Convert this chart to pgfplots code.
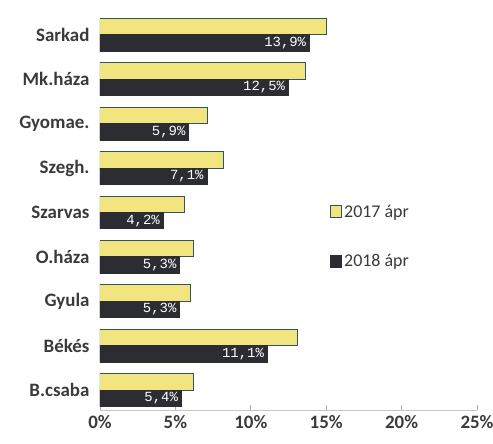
\documentclass[border=0pt]{standalone}
\usepackage{pgfplots}
\pgfplotsset{compat=1.18}
\usepackage{fontspec}
\setmainfont{Carlito}
\newfontfamily\valfont{Liberation Mono}
\definecolor{ylw}{HTML}{F2E47E}
\definecolor{ylwedge}{HTML}{2E5560}
\definecolor{dk}{HTML}{2B2D33}
\definecolor{txt}{HTML}{3A3A3A}
\begin{document}
\begin{tikzpicture}
\useasboundingbox (-100bp,-34bp) rectangle (393bp,410bp);
\begin{axis}[
  at={(0,0)}, anchor=south west,
  scale only axis, width=377bp, height=395bp,
  xbar, y dir=reverse,
  xmin=0, xmax=25,
  ymin=-0.45, ymax=8.45,
  bar width=0.37,
  ytick={0,...,8},
  yticklabels={Sarkad,Mk.háza,Gyomae.,Szegh.,Szarvas,O.háza,Gyula,Békés,B.csaba},
  xtick={0,5,...,25},
  xticklabel={\pgfmathprintnumber{\tick}\%},
  /pgf/number format/assume math mode=true,
  axis x line*=bottom,
  axis y line*=left,
  y axis line style={draw=none},
  x axis line style={gray!45, line width=0.8bp},
  xtick style={gray!60, line width=0.8bp},
  major tick length=5bp,
  ytick style={draw=none},
  ticklabel style={font=\fontsize{19}{19}\selectfont\bfseries, text=txt},
  yticklabel style={xshift=-2bp},
  xticklabel style={yshift=-2bp},
  legend style={at={(0.61,0.525)}, anchor=north west, draw=none, fill=none,
    font=\fontsize{18}{18}\selectfont, text=txt, row sep=32bp, inner sep=0pt,
    legend cell align=left},
  legend image code/.code={\draw[#1] (0bp,-6bp) rectangle (11bp,6bp);},
]
\addplot+[bar shift=-0.185, fill=ylw, draw=ylwedge, line width=1bp] coordinates {
  (15.0,0) (13.6,1) (7.1,2) (8.2,3) (5.6,4) (6.2,5) (6.0,6) (13.1,7) (6.2,8)};
\addlegendentry{2017 ápr}
\addplot+[bar shift=0.185, fill=dk, draw=dk, line width=1bp,
  nodes near coords={\pgfmathprintnumber[fixed,fixed zerofill,precision=1,use comma,assume math mode=true]{\pgfplotspointmeta}\%},
  nodes near coords style={anchor=east, text=white, inner sep=1pt, xshift=-2bp,
    font=\valfont\fontsize{14}{14}\selectfont}] coordinates {
  (13.9,0) (12.5,1) (5.9,2) (7.1,3) (4.2,4) (5.3,5) (5.3,6) (11.1,7) (5.4,8)};
\addlegendentry{2018 ápr}
\end{axis}
\end{tikzpicture}
\end{document}
